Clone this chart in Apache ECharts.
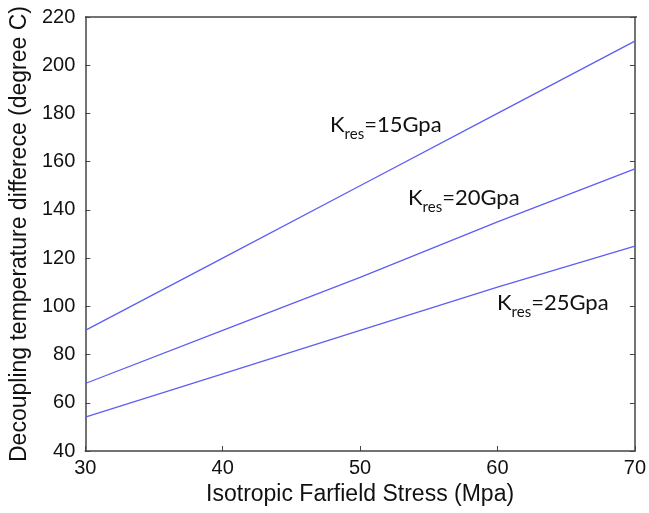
<!DOCTYPE html>
<html><head><meta charset="utf-8">
<script src="https://cdn.jsdelivr.net/npm/echarts@6/dist/echarts.min.js"></script>
<style>html,body{margin:0;padding:0;background:#fff}#c{width:649px;height:513px}</style>
</head><body><div id="c"></div>
<script>
const stress = [30, 40, 50, 60, 70];
const k15 = [90, 120, 150, 180, 210];
const k20 = [68, 90, 112, 135, 157];
const k25 = [54, 72, 90, 108, 125];
const labels = ['15Gpa', '20Gpa', '25Gpa'];

const chart = echarts.init(document.getElementById('c'));
const font = 'Liberation Sans, Arial, sans-serif';
const lineStyle = {color: '#5e5ef5', width: 1.3};
function ser(d){return {type:'line', data: stress.map((x,i)=>[x,d[i]]), symbol:'none', lineStyle, silent:true};}
function ann(txt, x, y){
  return {type:'text', left:x, top:y, style:{
    text:'{k|K}{s|res}{k|=' + txt + '}',
    rich:{k:{fontFamily:'Lato, sans-serif', fontSize:22, fill:'#111', verticalAlign:'bottom'},
          s:{fontFamily:'Lato, sans-serif', fontSize:15, fill:'#111', verticalAlign:'bottom', padding:[0,0,-6,0]}}
  }};
}
chart.setOption({
  animation:false,
  grid:{left:85, top:17, right:12, bottom:62},
  xAxis:{type:'value', min:30, max:70, interval:10,
    name:'Isotropic Farfield Stress (Mpa)', nameLocation:'middle', nameGap:32,
    nameTextStyle:{fontFamily:font, fontSize:23, color:'#111'},
    axisLine:{show:true, lineStyle:{color:'#444', width:1.5}},
    axisTick:{inside:true, length:5, lineStyle:{color:'#444'}},
    axisLabel:{fontFamily:font, fontSize:20, color:'#111', margin:7},
    splitLine:{show:false}},
  yAxis:[{type:'value', min:40, max:220, interval:20,
    name:'Decoupling temperature differece (degree C)', nameLocation:'middle', nameGap:52,
    nameTextStyle:{fontFamily:font, fontSize:23, color:'#111'},
    axisLine:{show:true, lineStyle:{color:'#444', width:1.5}},
    axisTick:{inside:true, length:5, lineStyle:{color:'#444'}},
    axisLabel:{fontFamily:font, fontSize:20, color:'#111', margin:10},
    splitLine:{show:false}},
    {type:'value', min:40, max:220, interval:20, position:'right',
    axisLine:{show:true, lineStyle:{color:'#444', width:1.5}},
    axisTick:{inside:true, length:5, lineStyle:{color:'#444'}},
    axisLabel:{show:false}, splitLine:{show:false}}],
  graphic:[
    {type:'line', shape:{x1:85, y1:17, x2:637, y2:17}, style:{stroke:'#444', lineWidth:1.5}},
    ann(labels[0], 330, 114),
    ann(labels[1], 408, 187),
    ann(labels[2], 497, 292)
  ],
  series:[ser(k15), ser(k20), ser(k25)]
});
</script></body></html>
